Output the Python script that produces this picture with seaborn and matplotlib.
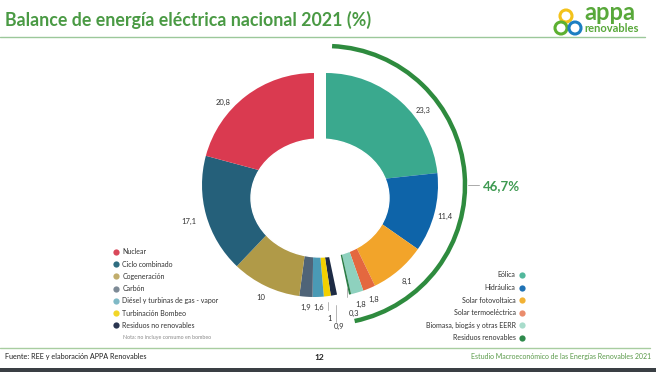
import numpy as np
import matplotlib
matplotlib.use("Agg")
import matplotlib.pyplot as plt
from matplotlib.patches import Arc, Ellipse, Circle, Rectangle
from matplotlib.lines import Line2D
import seaborn as sns

# Balance de energía eléctrica nacional 2021 (%)
renew_names = ["Eólica", "Hidráulica", "Solar fotovoltaica", "Solar termoeléctrica",
               "Biomasa, biogás y otras EERR", "Residuos renovables"]
renew_vals = [23.3, 11.4, 8.1, 1.8, 1.8, 0.3]
renew_colors = ["#3aa98e", "#0e64a9", "#f2a42a", "#e4683f", "#8ed1be", "#2b7d47"]
renew_legend_colors = ["#52b89c", "#1f72b5", "#f2b234", "#ea8c6c", "#a8dccb", "#2f8a4c"]

nonrenew_names = ["Nuclear", "Ciclo combinado", "Cogeneración", "Carbón",
                  "Diésel y turbinas de gas - vapor", "Turbinación Bombeo", "Residuos no renovables"]
nonrenew_vals = [20.8, 17.1, 10, 1.9, 1.6, 1, 0.9]
nonrenew_colors = ["#da3a50", "#25607a", "#b09a48", "#4f6478", "#4a9ab5", "#f2d000", "#1d2b45"]
nonrenew_legend_colors = ["#d9485a", "#2f6d80", "#c1ad6c", "#7d8a96", "#7fb9c6", "#f2d627", "#2a3550"]

renew_total = "46,7%"

GREEN = "#4a9a44"
H = 372

sns.set_theme(style="white")
plt.rcParams["font.family"] = ["Lato", "DejaVu Sans"]

fig = plt.figure(figsize=(6.56, 3.72), dpi=100)
ax = fig.add_axes([0, 0, 1, 1])

R = 112
c_ren = (326, H - 185)
c_non = (314, H - 185)

# renewables: clockwise from the top
ax.pie(np.array(renew_vals) / 100, normalize=False, startangle=90, counterclock=False,
       center=c_ren, radius=R, colors=renew_colors, wedgeprops=dict(linewidth=0))
# non-renewables: anticlockwise from the top -> draw clockwise from the end of renewables
non_cw = nonrenew_vals[::-1]
ax.pie(np.array(non_cw) / 100, normalize=False,
       startangle=90 - 3.6 * sum(renew_vals), counterclock=False,
       center=c_non, radius=R, colors=nonrenew_colors[::-1], wedgeprops=dict(linewidth=0))

# hole (slightly low, as in the slide)
ax.add_patch(Ellipse((320, H - 198), 138, 118, color="white", zorder=5))

ax.set_xlim(0, 656)
ax.set_ylim(0, H)
ax.set_aspect("equal")
ax.axis("off")


def fmt(v):
    return (f"{v:g}").replace(".", ",")


# value labels
ren_r = [123, 123, 125, 123, 123, 131]
ren_nudge = [10, 0, 0, 0, 0, 0]
cum = 0
for v, r, nd in zip(renew_vals, ren_r, ren_nudge):
    phi = np.radians(3.6 * (cum + v / 2) + nd)
    cum += v
    ax.text(c_ren[0] + r * np.sin(phi), c_ren[1] + r * np.cos(phi) - 1, fmt(v),
            ha="center", va="center", fontsize=5.5, color="#333333", zorder=6)

non_r = [123, 130, 124, 122, 122, 133, 143]
non_nudge = [10, 0, 0, 0, 0, 0, 0]
cum = 0
for v, r, nd in zip(nonrenew_vals, non_r, non_nudge):
    phi = np.radians(3.6 * (cum + v / 2) + nd)
    cum += v
    ax.text(c_non[0] - r * np.sin(phi), c_non[1] + r * np.cos(phi) - 1, fmt(v),
            ha="center", va="center", fontsize=5.5, color="#333333", zorder=6)

# leader lines for the thin slices
for x, y0, y1 in [(347, 288, 297), (328, 302, 310), (336, 305, 322)]:
    ax.plot([x, x], [H - y0, H - y1], color="#aaaaaa", lw=0.6)

# renewables bracket
arc_r = 139
ax.add_patch(Arc(c_ren, 2 * arc_r, 2 * arc_r, theta1=90 - 3.6 * sum(renew_vals), theta2=87.5,
                 color="#2e8b3e", lw=3.2))
ax.plot([c_ren[0] + arc_r + 3, c_ren[0] + arc_r + 14], [H - 185, H - 185], color="#aaaaaa", lw=0.7)
ax.text(483, H - 186, renew_total, ha="left", va="center", fontsize=9.5,
        fontweight="bold", color="#3f9a52")

# legends
def handles(cols):
    return [Line2D([], [], marker="o", linestyle="", markersize=4.5,
                   markerfacecolor=c, markeredgewidth=0) for c in cols]


leg1 = ax.legend(handles(nonrenew_legend_colors), nonrenew_names, loc="upper left",
                 bbox_to_anchor=(110 / 656, 1 - 245 / H), frameon=False, fontsize=5.0,
                 labelspacing=0.75, handlelength=0.8, handletextpad=0.5, borderpad=0,
                 labelcolor="#333333")
ax.add_artist(leg1)
ax.legend(handles(renew_legend_colors), renew_names, loc="upper right",
          bbox_to_anchor=(528 / 656, 1 - 268 / H), frameon=False, fontsize=5.0,
          labelspacing=0.8, handlelength=0.8, handletextpad=0.5, borderpad=0,
          markerfirst=False, labelcolor="#333333")
ax.text(123, H - 337, "Nota: no incluye consumo en bombeo", fontsize=3.8,
        color="#888888", va="center")

# header
ax.text(5, H - 20, "Balance de energía eléctrica nacional 2021 (%)", fontsize=12.8,
        fontweight="bold", color=GREEN, va="center", ha="left")
ax.plot([0, 645], [H - 37, H - 37], color="#9cc89a", lw=1)
ax.add_patch(Circle((566, H - 16), 6, fill=False, ec="#f3c21b", lw=2.2))
ax.add_patch(Circle((561, H - 28), 6, fill=False, ec="#5cb030", lw=2.2))
ax.add_patch(Circle((575, H - 28), 6, fill=False, ec="#1c7ec2", lw=2.2))
ax.text(584, H - 13, "appa", fontsize=17, fontweight="bold", color="#58a83a",
        va="center", ha="left")
ax.text(584, H - 29, "renovables", fontsize=8, fontweight="bold", color="#58a83a",
        va="center", ha="left")

# footer
ax.plot([0, 650], [H - 348, H - 348], color="#a8cda0", lw=1)
ax.text(5, H - 357, "Fuente: REE y elaboración APPA Renovables", fontsize=5.2,
        color="#222222", va="center")
ax.text(314, H - 357, "12", fontsize=6, fontweight="bold", color="#222222", va="center")
ax.text(651, H - 357, "Estudio Macroeconómico de las Energías Renovables 2021", fontsize=5,
        color="#5a9a4a", va="center", ha="right")
ax.add_patch(Rectangle((0, 0), 656, 4, color="#3a3f44", lw=0))

fig.savefig("out.png", dpi=100)
